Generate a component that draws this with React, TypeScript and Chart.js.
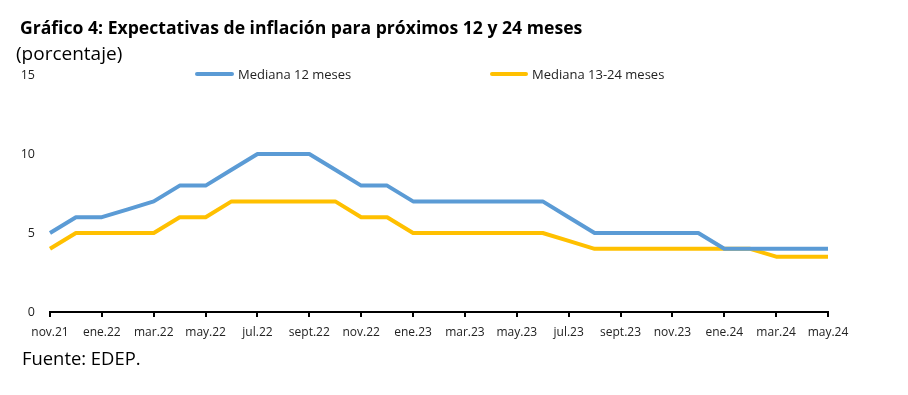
import React, { useEffect, useRef } from "react";
import { Chart, registerables } from "chart.js";

Chart.register(...registerables);

const months = [
  "nov.21", "dic.21", "ene.22", "feb.22", "mar.22", "abr.22", "may.22", "jun.22",
  "jul.22", "ago.22", "sept.22", "oct.22", "nov.22", "dic.22", "ene.23", "feb.23",
  "mar.23", "abr.23", "may.23", "jun.23", "jul.23", "ago.23", "sept.23", "oct.23",
  "nov.23", "dic.23", "ene.24", "feb.24", "mar.24", "abr.24", "may.24",
];

const mediana12 = [
  5, 6, 6, 6.5, 7, 8, 8, 9, 10, 10, 10, 9, 8, 8, 7, 7, 7, 7, 7, 7, 6, 5, 5, 5, 5, 5, 4, 4, 4, 4, 4,
];

const mediana1324 = [
  4, 5, 5, 5, 5, 6, 6, 7, 7, 7, 7, 7, 6, 6, 5, 5, 5, 5, 5, 5, 4.5, 4, 4, 4, 4, 4, 4, 4, 3.5, 3.5, 3.5,
];

const yTicks = [0, 5, 10, 15];

const seriesNames = ["Mediana 12 meses", "Mediana 13-24 meses"];
const colors = ["#5B9BD5", "#FFC000"];

const FONT = "'Open Sans', sans-serif";

export default function App() {
  const ref = useRef<HTMLCanvasElement | null>(null);

  useEffect(() => {
    if (!ref.current) return;
    const chart = new Chart(ref.current, {
      type: "line",
      data: {
        labels: months,
        datasets: [
          {
            label: seriesNames[0],
            data: mediana12,
            borderColor: colors[0],
            backgroundColor: colors[0],
            borderWidth: 4,
            borderJoinStyle: "round",
            pointRadius: 0,
            tension: 0,
          },
          {
            label: seriesNames[1],
            data: mediana1324,
            borderColor: colors[1],
            backgroundColor: colors[1],
            borderWidth: 4,
            borderJoinStyle: "round",
            pointRadius: 0,
            tension: 0,
          },
        ],
      },
      options: {
        animation: false,
        responsive: false,
        layout: { padding: { left: 0, right: 80, top: 75, bottom: 0 } },
        plugins: { legend: { display: false }, tooltip: { enabled: false } },
        scales: {
          x: {
            offset: false,
            grid: {
              drawOnChartArea: false,
              drawTicks: true,
              tickLength: 5,
              lineWidth: 2,
              color: (ctx: any) => (ctx.index % 2 === 0 ? "#000" : "rgba(0,0,0,0)"),
            },
            border: { display: true, color: "#000", width: 2 },
            ticks: {
              autoSkip: false,
              maxRotation: 0,
              minRotation: 0,
              padding: 8,
              color: "#222",
              font: { family: FONT, size: 12 },
              callback: (_v: any, i: number) => (i % 2 === 0 ? months[i] : ""),
            },
            afterFit: (s: any) => {
              s.height = 83;
            },
          },
          y: {
            min: yTicks[0],
            max: yTicks[yTicks.length - 1],
            grid: { display: false },
            border: { display: false },
            afterBuildTicks: (s: any) => {
              s.ticks = yTicks.map((v) => ({ value: v }));
            },
            ticks: {
              padding: 7,
              color: "#222",
              font: { family: FONT, size: 12.5 },
            },
            afterFit: (s: any) => {
              s.width = 50;
            },
          },
        },
      },
    });
    return () => chart.destroy();
  }, []);

  const legendItem = (x: number, lineW: number, i: number) => (
    <div
      style={{
        position: "absolute",
        left: x,
        top: 65,
        height: 18,
        display: "flex",
        alignItems: "center",
        fontFamily: FONT,
        fontSize: 13,
        color: "#222",
        whiteSpace: "nowrap",
      }}
    >
      <div style={{ width: lineW, height: 4, background: colors[i], borderRadius: 2, marginRight: 4 }} />
      <span>{seriesNames[i]}</span>
    </div>
  );

  return (
    <div
      style={{
        position: "absolute",
        left: 0,
        top: 0,
        width: 908,
        height: 395,
        background: "#fff",
        overflow: "hidden",
      }}
    >
      <canvas ref={ref} width={908} height={395} style={{ position: "absolute", left: 0, top: 0 }} />
      <div
        style={{
          position: "absolute",
          left: 20,
          top: 15,
          fontFamily: FONT,
          fontWeight: 700,
          fontSize: 17.6,
          color: "#000",
          whiteSpace: "nowrap",
        }}
      >
        Gráfico 4: Expectativas de inflación para próximos 12 y 24 meses
      </div>
      <div
        style={{
          position: "absolute",
          left: 16,
          top: 40,
          fontFamily: FONT,
          fontSize: 19,
          color: "#000",
          whiteSpace: "nowrap",
        }}
      >
        (porcentaje)
      </div>
      {legendItem(195, 39, 0)}
      {legendItem(490, 38, 1)}
      <div
        style={{
          position: "absolute",
          left: 22,
          top: 345,
          fontFamily: FONT,
          fontSize: 18.4,
          color: "#000",
          whiteSpace: "nowrap",
        }}
      >
        Fuente: EDEP.
      </div>
    </div>
  );
}
